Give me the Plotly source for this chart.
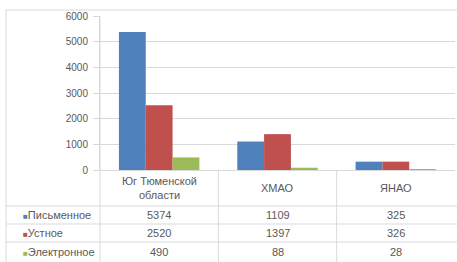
import plotly.graph_objects as go

categories = ["Юг Тюменской области", "ХМАО", "ЯНАО"]
category_labels = ["Юг Тюменской<br>области", "ХМАО", "ЯНАО"]
series_names = ["Письменное", "Устное", "Электронное"]
pismennoe = [5374, 1109, 325]
ustnoe = [2520, 1397, 326]
elektronnoe = [490, 88, 28]
series_values = [pismennoe, ustnoe, elektronnoe]
colors = ["#4F81BD", "#C0504D", "#9BBB59"]
y_ticks = [0, 1000, 2000, 3000, 4000, 5000, 6000]

W, H = 457, 262
L, R, T, B = 100, 2, 16, 92
PW = W - L - R
PH = H - T - B


def px(x):
    return (x - L) / PW


def py(y):
    return (H - B - y) / PH


fig = go.Figure()
for name, vals, c in zip(series_names, series_values, colors):
    fig.add_trace(go.Bar(x=categories, y=vals, name=name, marker_color=c,
                         marker_line_width=0))

grid = "#d9d9d9"
shapes = []
# outer frame (top and left)
shapes.append(dict(type="line", xref="paper", yref="paper", x0=px(6), x1=px(457), y0=py(10), y1=py(10),
                   line=dict(color=grid, width=1)))
shapes.append(dict(type="line", xref="paper", yref="paper", x0=px(6), x1=px(6), y0=py(10), y1=py(262),
                   line=dict(color=grid, width=1)))
# table horizontal lines
for yy in [206, 224, 242]:
    shapes.append(dict(type="line", xref="paper", yref="paper", x0=px(6), x1=px(457), y0=py(yy), y1=py(yy),
                       line=dict(color=grid, width=1)))
# table vertical lines
ncat = len(categories)
for i in range(1, ncat):
    xx = L + PW * i / ncat
    shapes.append(dict(type="line", xref="paper", yref="paper", x0=px(xx), x1=px(xx), y0=py(170), y1=py(262),
                       line=dict(color=grid, width=1)))
# y axis line extended through table
shapes.append(dict(type="line", xref="paper", yref="paper", x0=0, x1=0, y0=py(262), y1=1,
                   line=dict(color=grid, width=1)))

annotations = []
font = dict(family="Liberation Sans, Arial", size=11, color="#595959")
# header labels
for i, lab in enumerate(category_labels):
    cx = (i + 0.5) / ncat
    annotations.append(dict(xref="paper", yref="paper", x=cx, y=py(188), text=lab, showarrow=False,
                            font=font, xanchor="center", yanchor="middle"))
row_y = [215, 233, 252]
for r, (name, vals, c) in enumerate(zip(series_names, series_values, colors)):
    annotations.append(dict(xref="paper", yref="paper", x=px(21), y=py(row_y[r]),
                            text="<span style='color:%s;font-size:8px'>■</span>%s" % (c, name), showarrow=False,
                            font=font, xanchor="left", yanchor="middle"))
    for i, v in enumerate(vals):
        cx = (i + 0.5) / ncat
        annotations.append(dict(xref="paper", yref="paper", x=cx, y=py(row_y[r]), text=str(v),
                                showarrow=False, font=font, xanchor="center", yanchor="middle"))

fig.update_layout(
    width=W, height=H,
    margin=dict(l=L, r=R, t=T, b=B),
    paper_bgcolor="white", plot_bgcolor="white",
    barmode="group", bargap=0.32, bargroupgap=0,
    showlegend=False,
    xaxis=dict(showticklabels=False, showgrid=False, showline=True, linecolor=grid, ticks=""),
    yaxis=dict(range=[0, 6000], tickvals=y_ticks, showgrid=True, gridcolor=grid, showline=True,
               linecolor=grid, ticks="outside", ticklen=6, tickcolor=grid, ticklabelstandoff=3,
               tickfont=dict(family="Liberation Sans, Arial", size=10, color="#595959"), zeroline=False),
    shapes=shapes, annotations=annotations,
)

fig.write_html("out.html", config={"displayModeBar": False},
               post_script="document.body.style.margin='0';document.body.style.overflow='hidden';")
